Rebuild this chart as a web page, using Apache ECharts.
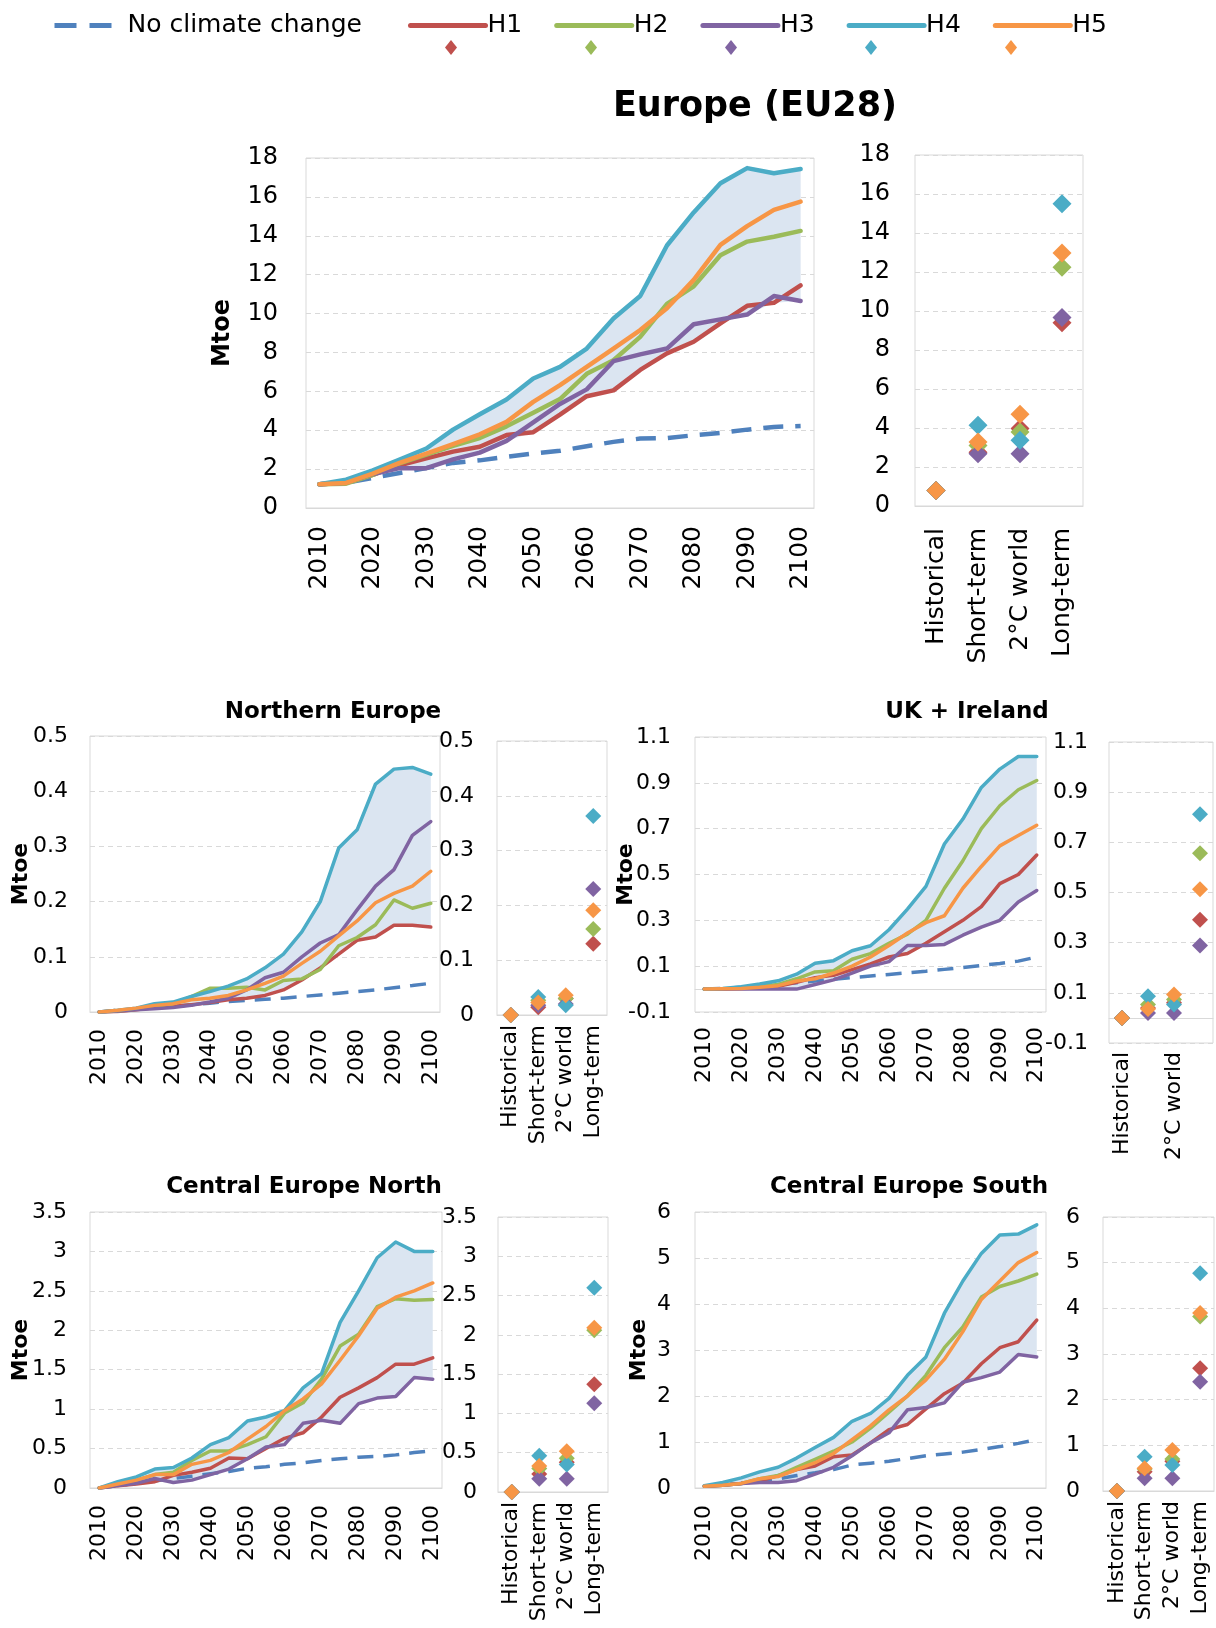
<!DOCTYPE html>
<html>
<head>
<meta charset="utf-8">
<script src="https://cdn.jsdelivr.net/npm/echarts@6/dist/echarts.min.js"></script>
<style>
  html, body { margin: 0; padding: 0; background: #fff; }
  #chart { width: 1216px; height: 1628px; }
</style>
</head>
<body>
<div id="chart"></div>
<script>
// --- categories ---
var years = ['2010','2015','2020','2025','2030','2035','2040','2045','2050','2055',
             '2060','2065','2070','2075','2080','2085','2090','2095','2100'];
var periods = ['Historical', 'Short-term', '2°C world', 'Long-term'];
var scenarios = ['H1', 'H2', 'H3', 'H4', 'H5'];

// --- Europe (EU28) ---
var euNoCC = [1.22,1.3,1.55,1.8,2.05,2.32,2.45,2.63,2.8,2.94,3.18,3.4,3.57,3.6,3.74,3.86,4.03,4.17,4.22];
var euH1 = [1.22,1.3,1.7,2.2,2.55,2.9,3.15,3.75,3.9,4.8,5.75,6.05,7.1,7.95,8.55,9.5,10.4,10.55,11.45];
var euH2 = [1.22,1.25,1.7,2.3,2.75,3.2,3.6,4.2,4.9,5.6,6.9,7.6,8.8,10.5,11.4,13.0,13.7,13.95,14.25];
var euH3 = [1.22,1.3,1.75,2.05,2.05,2.5,2.85,3.45,4.4,5.35,6.1,7.55,7.9,8.2,9.45,9.7,9.95,10.9,10.65];
var euH4 = [1.22,1.46,1.94,2.49,3.06,4.03,4.82,5.58,6.66,7.26,8.2,9.75,10.9,13.5,15.2,16.7,17.48,17.22,17.43];
var euH5 = [1.22,1.29,1.77,2.32,2.8,3.28,3.79,4.43,5.46,6.32,7.26,8.2,9.15,10.27,11.73,13.53,14.5,15.33,15.76];
var euPts = [[0.8,2.76,3.97,9.4],[0.8,3.1,3.8,12.25],[0.8,2.68,2.68,9.67],[0.8,4.14,3.37,15.5],[0.8,3.28,4.7,12.97]];

// --- Northern Europe ---
var neNoCC = [0,0.003,0.006,0.008,0.01,0.013,0.016,0.019,0.021,0.023,0.025,0.028,0.031,0.034,0.037,0.04,0.044,0.048,0.052];
var neH1 = [0,0.001,0.004,0.008,0.01,0.013,0.017,0.022,0.025,0.03,0.04,0.058,0.08,0.105,0.13,0.136,0.157,0.157,0.154];
var neH2 = [0,0.002,0.005,0.01,0.015,0.028,0.043,0.043,0.045,0.04,0.057,0.06,0.077,0.12,0.135,0.158,0.203,0.188,0.197];
var neH3 = [0,0.002,0.004,0.006,0.008,0.012,0.018,0.025,0.04,0.062,0.072,0.1,0.125,0.14,0.185,0.228,0.258,0.32,0.345];
var neH4 = [0,0.003,0.007,0.015,0.018,0.028,0.037,0.047,0.06,0.08,0.105,0.145,0.2,0.297,0.33,0.413,0.44,0.443,0.431];
var neH5 = [0,0.003,0.007,0.012,0.015,0.022,0.025,0.03,0.04,0.052,0.065,0.088,0.11,0.138,0.165,0.198,0.215,0.228,0.255];
var nePts = [[0,0.014,0.03,0.13],[0,0.027,0.03,0.157],[0,0.018,0.02,0.23],[0,0.033,0.018,0.363],[0,0.023,0.036,0.191]];

// --- UK + Ireland ---
var ukNoCC = [0,0.003,0.008,0.013,0.02,0.028,0.035,0.043,0.05,0.057,0.064,0.071,0.078,0.086,0.094,0.103,0.112,0.122,0.14];
var ukH1 = [0,0,0.002,0.005,0.012,0.03,0.05,0.06,0.085,0.11,0.14,0.155,0.2,0.25,0.3,0.36,0.46,0.5,0.585];
var ukH2 = [0,0.002,0.005,0.012,0.02,0.045,0.075,0.08,0.13,0.155,0.2,0.24,0.3,0.44,0.56,0.7,0.8,0.87,0.91];
var ukH3 = [0,0,0,0,0,0,0.02,0.04,0.07,0.1,0.12,0.19,0.19,0.195,0.235,0.27,0.3,0.38,0.43];
var ukH4 = [0,0.003,0.01,0.022,0.036,0.065,0.113,0.124,0.167,0.189,0.259,0.349,0.448,0.633,0.742,0.88,0.96,1.015,1.015];
var ukH5 = [0,0.001,0.003,0.008,0.015,0.035,0.045,0.07,0.1,0.14,0.19,0.245,0.29,0.32,0.44,0.535,0.625,0.67,0.715];
var ukPts = [[0,0.04,0.06,0.391],[0,0.053,0.073,0.656],[0,0.02,0.02,0.289],[0,0.086,0.053,0.812],[0,0.036,0.093,0.513]];

// --- Central Europe North ---
var cenNoCC = [0,0.03,0.06,0.09,0.12,0.15,0.18,0.21,0.25,0.27,0.3,0.32,0.35,0.37,0.39,0.4,0.42,0.45,0.47];
var cenH1 = [0,0.03,0.05,0.08,0.16,0.2,0.25,0.38,0.37,0.5,0.63,0.7,0.9,1.15,1.27,1.4,1.57,1.57,1.65];
var cenH2 = [0,0.05,0.1,0.17,0.2,0.35,0.47,0.47,0.55,0.65,0.95,1.08,1.38,1.8,1.95,2.3,2.4,2.38,2.39];
var cenH3 = [0,0.03,0.06,0.12,0.07,0.1,0.17,0.24,0.37,0.52,0.55,0.82,0.86,0.82,1.07,1.14,1.16,1.4,1.38];
var cenH4 = [0,0.08,0.14,0.24,0.26,0.38,0.55,0.64,0.85,0.9,0.98,1.27,1.45,2.1,2.5,2.92,3.12,3.0,3.0];
var cenH5 = [0,0.05,0.1,0.17,0.17,0.3,0.35,0.45,0.62,0.78,0.98,1.13,1.32,1.62,1.93,2.28,2.42,2.5,2.6];
var cenPts = [[0,0.23,0.38,1.37],[0,0.3,0.43,2.06],[0,0.17,0.17,1.13],[0,0.46,0.35,2.6],[0,0.33,0.52,2.09]];

// --- Central Europe South ---
var cesNoCC = [0.04,0.07,0.1,0.14,0.2,0.27,0.33,0.4,0.5,0.54,0.58,0.64,0.7,0.74,0.78,0.84,0.9,0.97,1.05];
var cesH1 = [0.04,0.06,0.1,0.15,0.27,0.4,0.48,0.68,0.72,0.98,1.27,1.38,1.72,2.05,2.28,2.7,3.05,3.18,3.65];
var cesH2 = [0.04,0.06,0.1,0.2,0.27,0.45,0.62,0.8,1.0,1.3,1.65,2.0,2.45,3.05,3.5,4.15,4.38,4.5,4.65];
var cesH3 = [0.04,0.06,0.1,0.12,0.12,0.16,0.3,0.45,0.7,0.98,1.2,1.7,1.75,1.85,2.3,2.4,2.52,2.9,2.85];
var cesH4 = [0.05,0.12,0.22,0.35,0.45,0.65,0.88,1.1,1.45,1.62,1.95,2.45,2.85,3.8,4.5,5.1,5.5,5.52,5.72];
var cesH5 = [0.04,0.06,0.1,0.2,0.25,0.4,0.55,0.75,1.05,1.35,1.7,2.0,2.35,2.8,3.4,4.1,4.5,4.9,5.12];
var cesPts = [[0,0.42,0.65,2.69],[0,0.48,0.7,3.82],[0,0.28,0.28,2.39],[0,0.75,0.57,4.77],[0,0.5,0.9,3.9]];

var colors = ['#c0504d', '#9bbb59', '#8064a2', '#4bacc6', '#f79646'];
var noccColor = '#4f81bd';
var bandColor = '#dbe5f1';
var gridColor = '#d9d9d9';
var font = 'DejaVu Sans';

// layout of each panel: line chart + diamond chart
var panels = [
  { title: 'Europe (EU28)', tx: 755, ty: 107, tsize: 35,
    noCC: euNoCC, lines: [euH1, euH2, euH3, euH4, euH5], pts: euPts,
    min: 0, max: 18, step: 2,
    line: { left: 306, top: 158, width: 508, height: 350 },
    scat: { left: 915, top: 155, width: 168, height: 351 },
    yFont: 24, xFont: 25, sxFont: 25, yMargin: 28, syMargin: 25, xMargin: 18, sxMargin: 22,
    nameGap: 71, nameSize: 24, lw: 4.5, dash: [20, 12], dashW: 4.5, sym: 19, sInterval: 0 },
  { title: 'Northern Europe', tx: 333, ty: 712, tsize: 23,
    noCC: neNoCC, lines: [neH1, neH2, neH3, neH4, neH5], pts: nePts,
    min: 0, max: 0.5, step: 0.1,
    line: { left: 90, top: 736, width: 350, height: 276 },
    scat: { left: 497, top: 741, width: 110, height: 274 },
    yFont: 22, xFont: 22, sxFont: 22, yMargin: 22, syMargin: 23, xMargin: 17, sxMargin: 10,
    nameGap: 58, nameSize: 22, lw: 3.5, dash: [16, 10], dashW: 3.5, sym: 16, sInterval: 0 },
  { title: 'UK + Ireland', tx: 967, ty: 712, tsize: 23,
    noCC: ukNoCC, lines: [ukH1, ukH2, ukH3, ukH4, ukH5], pts: ukPts,
    min: -0.1, max: 1.1, step: 0.2,
    line: { left: 695, top: 737, width: 351, height: 275 },
    scat: { left: 1109, top: 742, width: 104, height: 301 },
    yFont: 22, xFont: 22, sxFont: 22, yMargin: 24, syMargin: 21, xMargin: 15, sxMargin: 9,
    nameGap: 58, nameSize: 22, lw: 3.5, dash: [16, 10], dashW: 3.5, sym: 16, sInterval: 1 },
  { title: 'Central Europe North', tx: 304, ty: 1187, tsize: 23,
    noCC: cenNoCC, lines: [cenH1, cenH2, cenH3, cenH4, cenH5], pts: cenPts,
    min: 0, max: 3.5, step: 0.5,
    line: { left: 90, top: 1212, width: 352, height: 276 },
    scat: { left: 498, top: 1217, width: 110, height: 275 },
    yFont: 22, xFont: 22, sxFont: 22, yMargin: 23, syMargin: 21, xMargin: 17, sxMargin: 10,
    nameGap: 58, nameSize: 22, lw: 3.5, dash: [16, 10], dashW: 3.5, sym: 16, sInterval: 0 },
  { title: 'Central Europe South', tx: 909, ty: 1187, tsize: 23,
    noCC: cesNoCC, lines: [cesH1, cesH2, cesH3, cesH4, cesH5], pts: cesPts,
    min: 0, max: 6, step: 1,
    line: { left: 695, top: 1212, width: 351, height: 276 },
    scat: { left: 1103, top: 1217, width: 111, height: 274 },
    yFont: 22, xFont: 22, sxFont: 22, yMargin: 24, syMargin: 23, xMargin: 17, sxMargin: 10,
    nameGap: 45, nameSize: 22, lw: 3.5, dash: [16, 10], dashW: 3.5, sym: 16, sInterval: 0 }
];

function fmt(v) { return String(+v.toFixed(2)); }

var grid = [], xAxis = [], yAxis = [], series = [], graphic = [];

panels.forEach(function(p, i) {
  var gl = 2 * i, gs = 2 * i + 1;
  [p.line, p.scat].forEach(function(box) {
    grid.push({ show: true, borderColor: gridColor, borderWidth: 1, containLabel: false,
      outerBoundsMode: 'none', left: box.left, top: box.top, width: box.width, height: box.height });
  });

  xAxis.push({ gridIndex: gl, type: 'category', data: years, boundaryGap: true,
    axisTick: { show: false },
    axisLine: { show: true, onZero: true, lineStyle: { color: gridColor, width: 1 } },
    axisLabel: { rotate: 90, interval: 1, fontSize: p.xFont, fontFamily: font, color: '#000', margin: p.xMargin },
    splitLine: { show: false } });
  xAxis.push({ gridIndex: gs, type: 'category', data: periods, boundaryGap: true,
    axisTick: { show: false },
    axisLine: { show: true, onZero: true, lineStyle: { color: gridColor, width: 1 } },
    axisLabel: { rotate: 90, interval: p.sInterval, fontSize: p.sxFont, fontFamily: font, color: '#000', margin: p.sxMargin },
    splitLine: { show: false } });

  [gl, gs].forEach(function(g) {
    var isLine = g === gl;
    yAxis.push({ gridIndex: g, type: 'value', min: p.min, max: p.max, interval: p.step,
      axisLine: { show: false }, axisTick: { show: false },
      splitLine: { show: true, lineStyle: { color: gridColor, width: 1, type: [5, 4] } },
      axisLabel: { formatter: fmt, fontSize: p.yFont, fontFamily: font, color: '#000',
        margin: isLine ? p.yMargin : p.syMargin },
      name: isLine ? 'Mtoe' : '', nameLocation: 'middle', nameGap: p.nameGap, nameRotate: 90,
      nameMoveOverlap: false,
      nameTextStyle: { fontSize: p.nameSize, fontWeight: 'bold', fontFamily: font, color: '#000' } });
  });

  // shaded range between lowest and highest scenario
  var lo = [], span = [];
  for (var k = 0; k < years.length; k++) {
    var vals = p.lines.map(function(a) { return a[k]; });
    var mn = Math.min.apply(null, vals), mx = Math.max.apply(null, vals);
    lo.push(mn);
    span.push(+(mx - mn).toFixed(4));
  }
  series.push({ type: 'line', name: 'range-lo-' + i, xAxisIndex: gl, yAxisIndex: gl, data: lo,
    stack: 'band' + i, symbol: 'none', silent: true, lineStyle: { opacity: 0 } });
  series.push({ type: 'line', name: 'range-' + i, xAxisIndex: gl, yAxisIndex: gl, data: span,
    stack: 'band' + i, symbol: 'none', silent: true, lineStyle: { opacity: 0 },
    areaStyle: { color: bandColor, opacity: 1 } });

  series.push({ type: 'line', name: 'No climate change', xAxisIndex: gl, yAxisIndex: gl,
    data: p.noCC, symbol: 'none', color: noccColor,
    lineStyle: { color: noccColor, width: p.dashW, type: p.dash } });

  scenarios.forEach(function(s, j) {
    series.push({ type: 'line', name: s, xAxisIndex: gl, yAxisIndex: gl, data: p.lines[j],
      symbol: 'none', color: colors[j],
      lineStyle: { color: colors[j], width: p.lw, join: 'round', cap: 'round' } });
  });
  scenarios.forEach(function(s, j) {
    series.push({ type: 'scatter', name: s, xAxisIndex: gs, yAxisIndex: gs, data: p.pts[j],
      symbol: 'diamond', symbolSize: p.sym, color: colors[j],
      itemStyle: { color: colors[j], opacity: 1 } });
  });

  graphic.push({ type: 'text', x: p.tx, y: p.ty,
    style: { text: p.title, font: 'bold ' + p.tsize + 'px "DejaVu Sans"', fill: '#000',
      align: 'center', verticalAlign: 'middle' } });
});

var chart = echarts.init(document.getElementById('chart'));
chart.setOption({
  animation: false,
  backgroundColor: '#fff',
  tooltip: { show: false },
  legend: [
    { data: ['No climate change'], left: 47, top: 8, itemWidth: 58, itemHeight: 14,
      lineStyle: { width: 5, type: [22, 13] }, itemStyle: { opacity: 0 }, selectedMode: false,
      textStyle: { fontSize: 25, fontFamily: font, color: '#000', padding: [0, 0, 0, 10] } },
    { data: scenarios, left: 403, top: 8, itemWidth: 75, itemHeight: 14, itemGap: 32,
      lineStyle: { width: 5 }, itemStyle: { opacity: 0 }, selectedMode: false,
      textStyle: { fontSize: 25, fontFamily: font, color: '#000', padding: [0, 0, 0, -3] } },
    { data: scenarios.map(function(s, j) {
        return { name: s, icon: 'diamond', itemStyle: { color: colors[j], opacity: 1 } };
      }),
      left: 440, top: 35, itemWidth: 12, itemHeight: 15, itemGap: 128, selectedMode: false,
      formatter: function() { return ''; } }
  ],
  grid: grid,
  xAxis: xAxis,
  yAxis: yAxis,
  series: series,
  graphic: graphic
});
</script>
</body>
</html>
